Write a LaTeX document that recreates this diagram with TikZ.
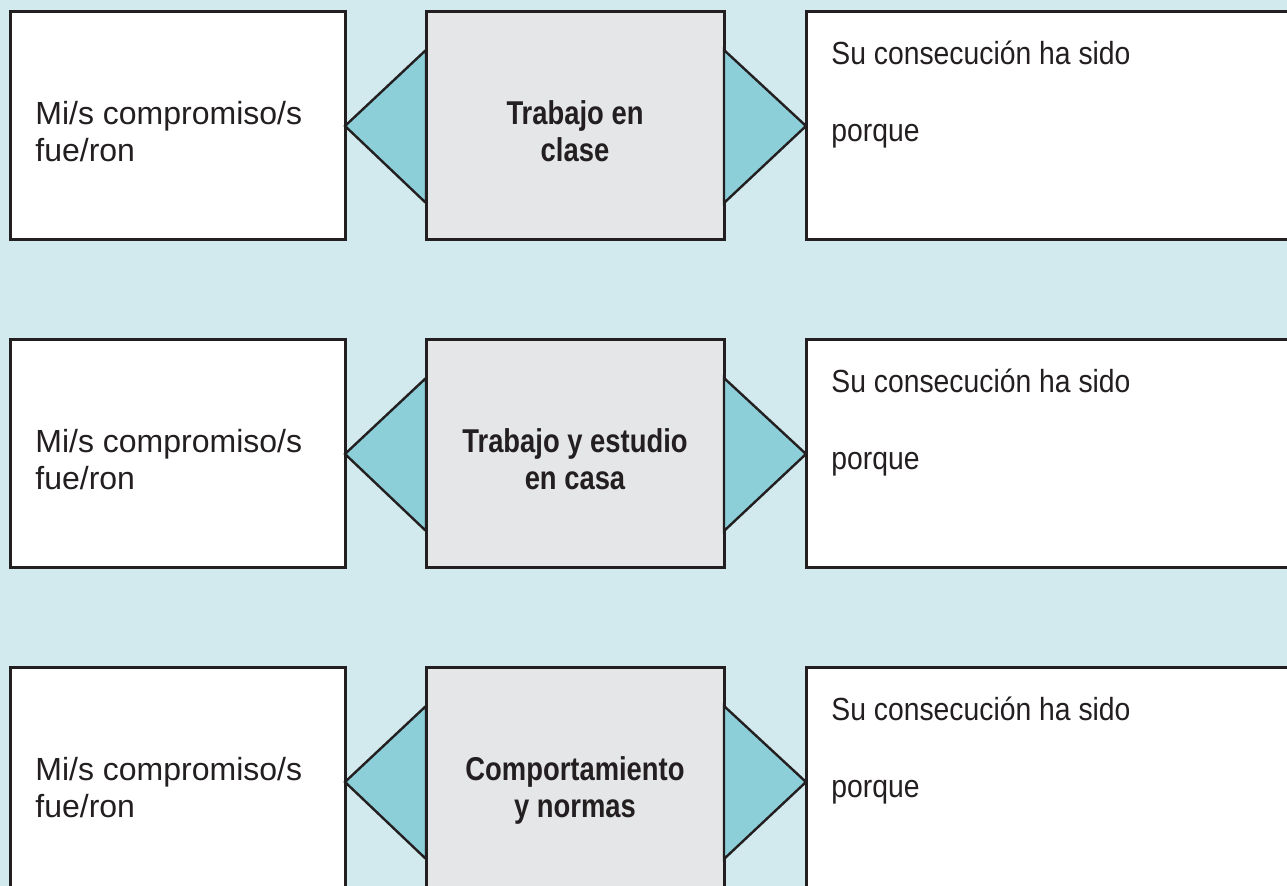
\documentclass[tikz,border=0pt]{standalone}
\usepackage{fontspec}
\setmainfont{Liberation Sans}
\newfontfamily\rightfont{Liberation Sans}[FakeStretch=0.885]
\newfontfamily\midfont{Liberation Sans}[FakeStretch=0.83]
\definecolor{bgc}{HTML}{D2E9EE}
\definecolor{tric}{HTML}{8DCFD8}
\definecolor{midc}{HTML}{E5E6E8}
\definecolor{linec}{HTML}{231F20}
\tikzset{
  boxbase/.style={draw=linec, line width=1.5pt, rectangle, inner sep=0pt, outer sep=0pt, minimum height=114pt},
  leftbox/.style={boxbase, fill=white, minimum width=167.5pt},
  midbox/.style={boxbase, fill=midc, minimum width=149pt},
  rightbox/.style={boxbase, fill=white, minimum width=247pt},
  tri/.style={draw=linec, line width=1.2pt, fill=tric, line join=miter},
  txt/.style={font=\fontsize{16}{19}\selectfont, text=linec, inner sep=0pt, anchor=base west},
  rtxt/.style={font=\fontsize{16}{19}\selectfont\rightfont, text=linec, inner sep=0pt, anchor=base west},
  midtxt/.style={font=\fontsize{16.5}{19}\selectfont\midfont\bfseries, text=linec, inner sep=0pt, anchor=base}
}
\begin{document}
\begin{tikzpicture}[x=0.5pt,y=-0.5pt]
\useasboundingbox (0,0) rectangle (1287,886);
\clip (0,0) rectangle (1287,886);
\fill[bgc] (0,0) rectangle (1287,886);
\foreach \r/\yc/\ma/\mb in {1/126/Trabajo en/clase, 2/454/Trabajo y estudio/en casa, 3/782/Comportamiento/y normas}{
  \node[leftbox] (L\r) at (177.5,\yc) {};
  \node[midbox] (M\r) at (575,\yc) {};
  \node[rightbox] (R\r) at (1053,\yc) {};
  \draw[tri] ([yshift=38pt]M\r.west) -- (L\r.east) -- ([yshift=-38.5pt]M\r.west) -- cycle;
  \draw[tri] ([yshift=38pt]M\r.east) -- (R\r.west) -- ([yshift=-38.5pt]M\r.east) -- cycle;
  \node[txt] (La\r) at (35,\yc-1) {Mi/s compromiso/s};
  \node[txt] (Lb\r) at (35,\yc+36) {fue/ron};
  \node[midtxt] (Ma\r) at (575,\yc-1) {\ma};
  \node[midtxt] (Mb\r) at (575,\yc+36) {\mb};
  \node[rtxt] (Ra\r) at (831,\yc-61) {Su consecución ha sido};
  \node[rtxt] (Rb\r) at (831,\yc+16) {porque};
}
\end{tikzpicture}
\end{document}
